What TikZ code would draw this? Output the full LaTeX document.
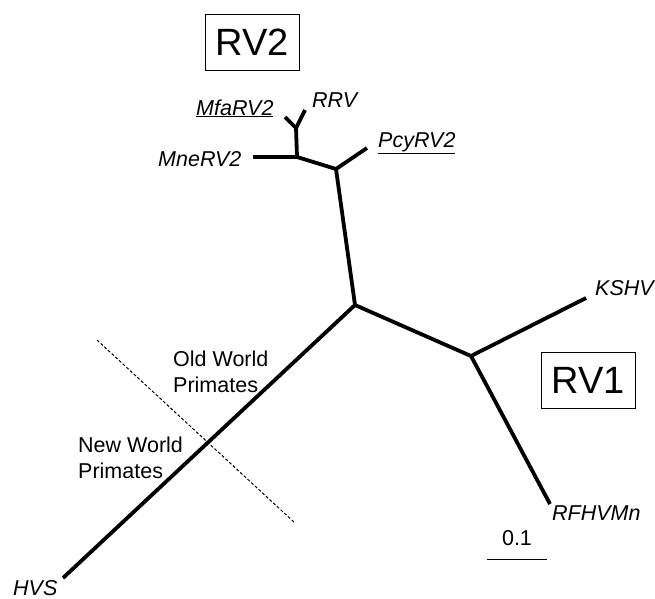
\documentclass[tikz,border=0pt]{standalone}
\usepackage{fontspec}
\setmainfont{Liberation Sans}
\begin{document}
\begin{tikzpicture}[x=1pt,y=-1pt,
  branch/.style={line width=3.8pt,line join=round},
  leaf/.style={inner sep=0pt,font=\fontsize{21.5}{26}\selectfont\itshape},
  group/.style={inner sep=0pt,align=left,font=\fontsize{21.5}{26}\selectfont},
  clade/.style={draw,line width=0.8pt,minimum width=94pt,minimum height=56pt,inner sep=0pt,font=\fontsize{38}{40}\selectfont}]
\useasboundingbox (0,0) rectangle (655,598);
% internal nodes
\coordinate (A) at (355,305);
\coordinate (B) at (471,356);
\coordinate (C) at (336,169);
\coordinate (D) at (297,157);
\coordinate (E) at (296,128);
% leaf ends
\coordinate (hvs) at (63,578);
\coordinate (kshv) at (586,298);
\coordinate (rfhv) at (550,504);
\coordinate (pcy) at (367,148);
\coordinate (mne) at (253,157);
\coordinate (mfa) at (285,117);
\coordinate (rrv) at (305,110);
% branches
\draw[branch] (hvs) -- (A);
\draw[branch] (A) -- (B);
\draw[branch] (B) -- (kshv);
\draw[branch] (B) -- (rfhv);
\draw[branch] (A) -- (C);
\draw[branch] (C) -- (pcy);
\draw[branch] (C) -- (D);
\draw[branch] (D) -- (mne);
\draw[branch] (D) -- (E);
\draw[branch] (E) -- (mfa);
\draw[branch] (E) -- (rrv);
% labels
\node[leaf,anchor=base west] (lmfa) at (196,115) {\underline{MfaRV2}};
\node[leaf,anchor=base west] (lrrv) at (312,107) {RRV};
\node[leaf,anchor=base west] (lmne) at (158,166) {MneRV2};
\node[leaf,anchor=base west] (lpcy) at (378,147) {\underline{PcyRV2}};
\node[leaf,anchor=base west] (lkshv) at (595,295) {KSHV};
\node[leaf,anchor=base west] (lrfhv) at (552,520) {RFHVMn};
\node[leaf,anchor=base west] (lhvs) at (13,595) {HVS};
% clade boxes
\node[clade] (rv2) at (252.5,42) {RV2};
\node[clade] (rv1) at (588.5,380.5) {RV1};
% divider
\coordinate (d1) at (97,340);
\coordinate (d2) at (295,523);
\draw[dashed,line width=1pt,dash pattern=on 3pt off 2pt] (d1) -- (d2);
\node[group,anchor=north west] (old) at (173,351) {Old World\\Primates};
\node[group,anchor=north west] (new) at (78,437) {New World\\Primates};
% scale bar
\coordinate (s1) at (487,559);
\coordinate (s2) at (547,559);
\draw[line width=1pt] (s1) -- (s2);
\node[inner sep=0pt,anchor=base,font=\fontsize{21.5}{26}\selectfont] (scale) at (517,545) {0.1};
\end{tikzpicture}
\end{document}
